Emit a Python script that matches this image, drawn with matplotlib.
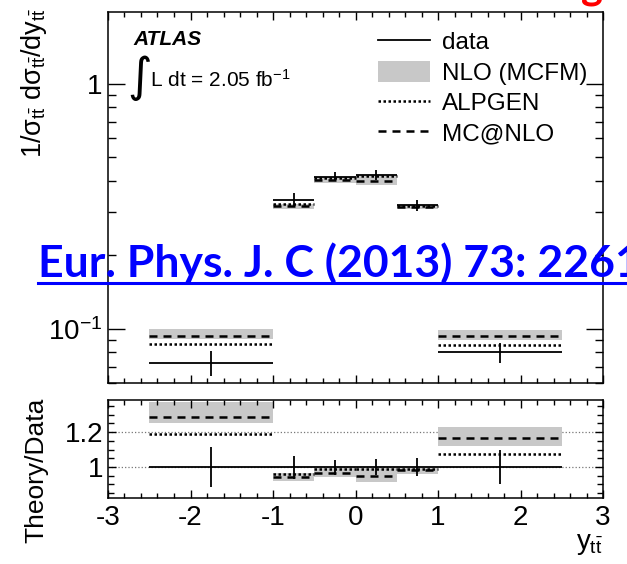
import numpy as np
import matplotlib.pyplot as plt
from matplotlib.lines import Line2D
from matplotlib.patches import Patch
from matplotlib.ticker import FixedLocator, FixedFormatter, MultipleLocator, NullFormatter

plt.rcParams['font.family'] = ['Liberation Sans', 'DejaVu Sans']
plt.rcParams['mathtext.fontset'] = 'custom'
plt.rcParams['mathtext.rm'] = 'Liberation Sans'
plt.rcParams['mathtext.it'] = 'Liberation Sans'
plt.rcParams['mathtext.bf'] = 'Liberation Sans:bold'
plt.rcParams['axes.unicode_minus'] = False

# y_tt bins
edges = np.array([-2.5, -1.0, -0.5, 0.0, 0.5, 1.0, 2.5])
data = np.array([0.0725, 0.3345, 0.417, 0.423, 0.319, 0.080])
data_rel_err = np.array([0.113, 0.066, 0.043, 0.048, 0.053, 0.095])

# theory / data
mcnlo_ratio = np.array([1.286, 0.943, 0.966, 0.951, 0.980, 1.166])
alpgen_ratio = np.array([1.190, 0.962, 0.989, 0.989, 0.990, 1.076])
nlo_lo = np.array([1.252, 0.918, 0.943, 0.913, 0.962, 1.122])
nlo_hi = np.array([1.376, 0.966, 0.994, 0.992, 1.000, 1.232])

centers = 0.5 * (edges[:-1] + edges[1:])
widths = np.diff(edges)

W, H = 627, 564
fig = plt.figure(figsize=(W / 100, H / 100), dpi=100)
ax = fig.add_axes([108 / W, 1 - 383 / H, 495 / W, 371 / H])
axr = fig.add_axes([108 / W, 1 - 498 / H, 495 / W, 98 / H])

dash = (0, (3.2, 2.4))
dots = (0, (1, 1))


def draw(a, norm):
    a.bar(centers, (nlo_hi - nlo_lo) * norm, bottom=nlo_lo * norm, width=widths,
          color='#c8c8c8', lw=0, zorder=1)
    a.hlines(alpgen_ratio * norm, edges[:-1], edges[1:], colors='k',
             linestyles=dots, lw=1.8, zorder=2)
    a.hlines(mcnlo_ratio * norm, edges[:-1], edges[1:], colors='k',
             linestyles=dash, lw=1.8, zorder=2)
    a.hlines(norm, edges[:-1], edges[1:], colors='k', lw=1.3, zorder=3)
    a.vlines(centers, norm * (1 - data_rel_err), norm * (1 + data_rel_err),
             colors='k', lw=1.3, zorder=3)


draw(ax, data)
draw(axr, np.ones_like(data))

for a in (ax, axr):
    a.set_xlim(-3, 3)
    a.xaxis.set_major_locator(MultipleLocator(1))
    a.xaxis.set_minor_locator(MultipleLocator(0.2))
    a.tick_params(which='both', direction='in', top=True, right=True,
                  labelsize=20, width=1.0)
    a.tick_params(axis='x', which='major', length=6)
    a.tick_params(axis='x', which='minor', length=3.3)
    for s in a.spines.values():
        s.set_linewidth(1.1)

ax.set_yscale('log')
ax.set_ylim(0.06, 1.96)
ax.yaxis.set_major_locator(FixedLocator([0.1, 1]))
ax.yaxis.set_major_formatter(FixedFormatter(['$10^{-1}$', '1']))
ax.yaxis.set_minor_locator(FixedLocator([0.06, 0.07, 0.08, 0.09, 0.2, 0.3, 0.4,
                                         0.5, 0.6, 0.7, 0.8, 0.9]))
ax.yaxis.set_minor_formatter(NullFormatter())
ax.tick_params(axis='y', which='major', length=12, pad=4)
ax.tick_params(axis='y', which='minor', length=6)
ax.tick_params(axis='x', labelbottom=False)

axr.set_ylim(0.822, 1.385)
axr.yaxis.set_major_locator(FixedLocator([1.0, 1.2]))
axr.yaxis.set_major_formatter(FixedFormatter(['1', '1.2']))
axr.yaxis.set_minor_locator(MultipleLocator(0.05))
axr.tick_params(axis='y', which='major', length=6, pad=3)
axr.tick_params(axis='y', which='minor', length=4)
axr.tick_params(axis='x', pad=5)
for lvl in (1.0, 1.2):
    axr.axhline(lvl, color='#777777', ls=':', lw=0.9, zorder=0)

# legend
handles = [Line2D([], [], color='k', lw=1.3),
           Patch(facecolor='#c8c8c8', edgecolor='none'),
           Line2D([], [], color='k', lw=1.8, ls=dots),
           Line2D([], [], color='k', lw=1.8, ls=dash)]
labels = ['data', 'NLO (MCFM)', 'ALPGEN', 'MC@NLO']
ax.legend(handles, labels, loc='upper left', bbox_to_anchor=(0.545, 0.95),
          frameon=False, fontsize=17.5, handlelength=2.15, handleheight=0.95,
          handletextpad=0.5, labelspacing=0.27, borderpad=0, borderaxespad=0)

# annotations
fig.text(133 / W, 1 - 45 / H, 'ATLAS', fontsize=15, weight='bold', style='italic',
         va='baseline')
fig.text(140 / W, 1 - 78 / H, '\u222b', family='DejaVu Sans', fontsize=34,
         ha='center', va='center')
fig.text(150 / W, 1 - 87 / H, 'L dt = 2.05 fb$^{-1}$', fontsize=15, va='baseline')

fig.text(34 / W, 1 - 8 / H, r'$1/\sigma_{t\bar{t}}\ d\sigma_{t\bar{t}}/dy_{t\bar{t}}$',
         fontsize=19.5, rotation=90, ha='center', va='top')
fig.text(36 / W, 1 - 398 / H, 'Theory/Data', fontsize=19, rotation=90,
         ha='center', va='top')
fig.text(603 / W, 1 - 531 / H, r'$y_{t\bar{t}}$', fontsize=20, ha='right', va='top')

# journal reference link
blue = '#0000ff'
fig.text(38 / W, 1 - 277 / H, 'Eur. Phys. J. C (2013) 73: 2261', fontsize=32,
         family='Lato', weight='bold', color=blue, va='baseline')
fig.add_artist(Line2D([38 / W, 1], [1 - 283 / H] * 2, color=blue, lw=2.2,
                      transform=fig.transFigure))
fig.text(592 / W, 1 + 1 / H, 'g', fontsize=30, family='Lato', weight='bold',
         color='#ff0000', ha='center', va='baseline')

fig.savefig('out.png', dpi=100)
